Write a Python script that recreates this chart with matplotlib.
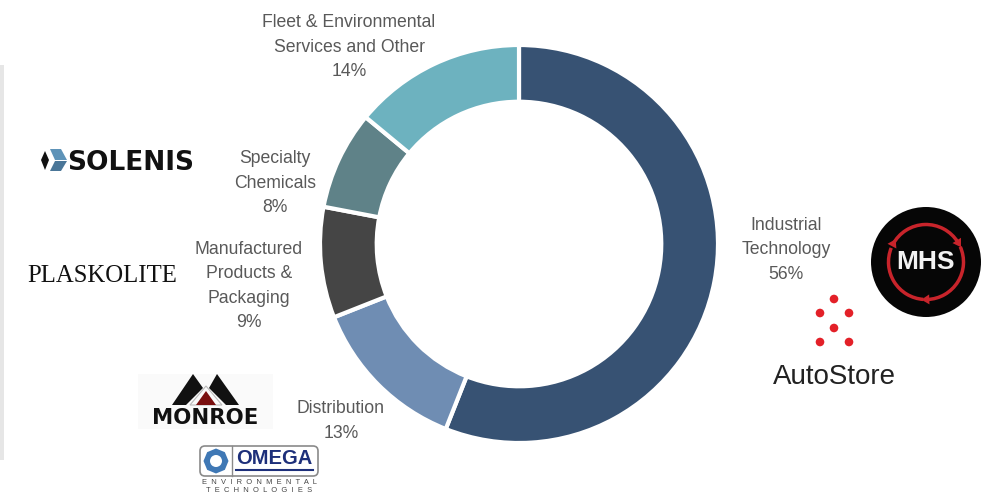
import math
import matplotlib
matplotlib.use("Agg")
import matplotlib.pyplot as plt
from matplotlib.patches import Rectangle, Circle, Polygon, FancyBboxPatch, Arc, RegularPolygon

W, H = 986, 496
segments = ["Industrial\nTechnology", "Distribution", "Manufactured\nProducts &\nPackaging",
            "Specialty\nChemicals", "Fleet & Environmental\nServices and Other"]
shares = [56, 13, 9, 8, 14]
colors = ["#375273", "#6F8DB3", "#454545", "#5F8288", "#6DB2BF"]
label_xy = [(786, 250), (341, 421), (249, 286), (275, 183), (349, 47)]

fig = plt.figure(figsize=(W / 100, H / 100), dpi=100, facecolor="white")
plt.rcParams["font.family"] = ["Liberation Sans", "DejaVu Sans"]

# Overlay in pixel coordinates
bg = fig.add_axes([0, 0, 1, 1])
bg.set_xlim(0, W); bg.set_ylim(H, 0); bg.axis("off")
bg.add_patch(Rectangle((0, 65), 3.5, 395, color="#E6E6E6", lw=0))

# Donut
cx, cy, R = 519, 244, 199
ax = fig.add_axes([(cx - R) / W, 1 - (cy + R) / H, 2 * R / W, 2 * R / H])
ax.pie(shares, colors=colors, startangle=90, counterclock=False, radius=1,
       wedgeprops=dict(width=0.285, edgecolor="white", linewidth=3))
ax.set_xlim(-1, 1); ax.set_ylim(-1, 1)
ax.set_aspect("equal"); ax.axis("off")

top = fig.add_axes([0, 0, 1, 1])
top.set_xlim(0, W); top.set_ylim(H, 0); top.axis("off"); top.patch.set_alpha(0)

for seg, val, (x, y) in zip(segments, shares, label_xy):
    top.text(x, y, f"{seg}\n{val}%", ha="center", va="center", fontsize=12.7,
             color="#595959", linespacing=1.57)

# Solenis logo
top.add_patch(Polygon([(41, 160), (45, 151), (49, 160), (45, 170)], color="#111111", lw=0))
top.add_patch(Polygon([(50, 149), (61, 149), (67, 160), (55, 160)], color="#5E93B8", lw=0))
top.add_patch(Polygon([(55, 161), (67, 161), (61, 171), (50, 171)], color="#4A7698", lw=0))
top.text(131, 162.5, "SOLENIS", ha="center", va="center", fontsize=19, fontweight="bold",
         color="#111111", family=["DejaVu Sans"])

# Plaskolite logo
top.text(102, 276, "PLASKOLITE", ha="center", va="center", fontsize=17.8, color="#111111",
         family=["Liberation Serif"])

# Monroe logo
top.add_patch(Rectangle((138, 374), 135, 55, color="#FAFAFA", lw=0))
top.add_patch(Polygon([(172, 405), (193, 374), (203, 388), (186, 405)], color="#111111", lw=0))
top.add_patch(Polygon([(217, 374), (239, 405), (226, 405), (209, 388)], color="#111111", lw=0))
top.add_patch(Polygon([(190, 405), (206, 386), (222, 405)], fc="none", ec="#BBBBBB", lw=0.8))
top.add_patch(Polygon([(196, 405), (206, 391), (216, 405)], color="#7A1010", lw=0))
top.text(205.5, 418, "MONROE", ha="center", va="center", fontsize=15.3, fontweight="bold",
         color="#111111", family=["DejaVu Sans"])

# Omega logo
top.add_patch(FancyBboxPatch((200, 446), 118, 30, boxstyle="round,pad=0,rounding_size=5",
                             fc="white", ec="#8A8A8A", lw=1.2))
top.plot([232, 232], [446, 476], color="#8A8A8A", lw=1)
top.add_patch(RegularPolygon((216, 461), 8, radius=12.5, fc="#3F78B5", ec="none"))
top.add_patch(Circle((216, 461), 6, fc="white", ec="none"))
top.text(274, 459, "OMEGA", ha="center", va="center", fontsize=14.5, fontweight="bold",
         color="#1D2F7A", family=["Liberation Sans"])
top.plot([236, 313], [470, 470], color="#1D2F7A", lw=1.5)
top.text(259, 482.5, "E  N  V  I  R  O  N  M  E  N  T  A  L", ha="center", va="center", fontsize=5.4,
         color="#444444", family=["Liberation Sans"])
top.text(259, 490.5, "T  E  C  H  N  O  L  O  G  I  E  S", ha="center", va="center", fontsize=5.4,
         color="#444444", family=["Liberation Sans"])

# MHS logo
mx, my, mr = 926, 262, 37.5
red = "#C8242B"
top.add_patch(Circle((mx, my), 55, fc="#060606", ec="none"))
for a1, a2 in [(32, 152), (-88, 24), (158, 266)]:
    top.add_patch(Arc((mx, my), 2 * mr, 2 * mr, theta1=-a2, theta2=-a1, color=red, lw=2.5))
def head(angle):
    a = math.radians(angle)
    px, py = mx + mr * math.cos(a), my - mr * math.sin(a)
    tx, ty = math.sin(a), math.cos(a)      # clockwise tangent on screen
    nx, ny = math.cos(a), -math.sin(a)
    top.add_patch(Polygon([(px + 6 * tx, py + 6 * ty),
                           (px - 2 * tx + 5 * nx, py - 2 * ty + 5 * ny),
                           (px - 2 * tx - 5 * nx, py - 2 * ty - 5 * ny)], color=red, lw=0))
for ang in (32, -88, 152):
    head(ang)
top.text(mx, my, "MHS", ha="center", va="center", fontsize=19, fontweight="bold",
         color="#F2F2F2", family=["Liberation Sans"])

# AutoStore logo
for x, y in [(834, 299), (820, 313), (849, 313), (834, 328), (820, 342), (849, 342)]:
    top.add_patch(Circle((x, y), 4.3, fc="#E32028", ec="none"))
top.text(834, 377, "AutoStore", ha="center", va="center", fontsize=20, color="#222222",
         family=["Liberation Sans"])

fig.savefig("out.png", dpi=100)
